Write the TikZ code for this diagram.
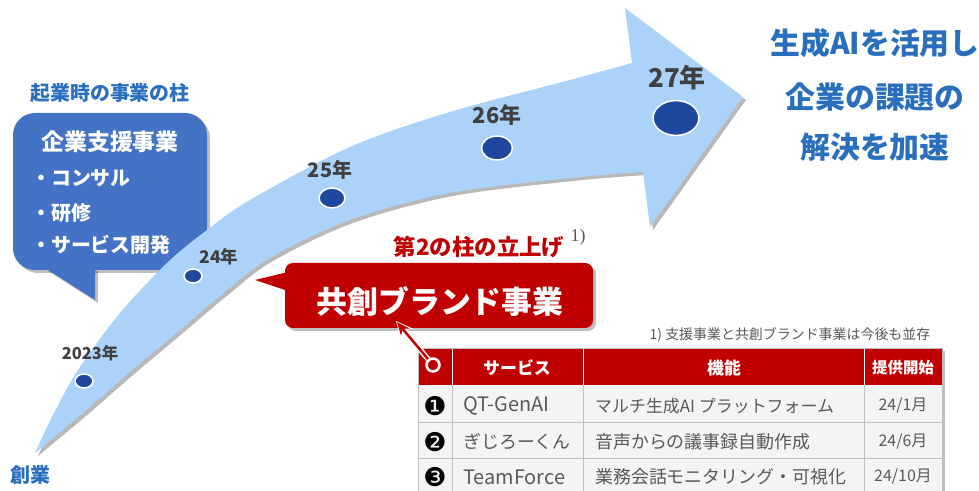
\documentclass[tikz,border=0pt]{standalone}
\usepackage{fontspec}
\setmainfont{Noto Sans CJK JP}
\newfontfamily\symfont{DejaVu Sans}
\newfontfamily\serifx{Liberation Serif}
\usetikzlibrary{arrows.meta,shapes.geometric}
\definecolor{arrowblue}{HTML}{ABD3FA}
\definecolor{dotblue}{HTML}{1E489E}
\definecolor{bubbleblue}{HTML}{4472C4}
\definecolor{titleblue}{HTML}{2A6FBE}
\definecolor{brandred}{HTML}{C00000}
\definecolor{yeargray}{HTML}{404040}
\definecolor{cellgray}{HTML}{595959}
\definecolor{rowfill}{HTML}{F4F4F4}
\definecolor{gridgray}{HTML}{BFBFBF}
\newcommand{\myfs}[1]{\fontsize{#1}{#1}\selectfont}
\begin{document}
\begin{tikzpicture}[x=1bp,y=-1bp,
  arrowshape/.style={insert path={plot[smooth,tension=0.55] coordinates {(35,453) (52,417) (78,370) (120,313) (167,263) (207,230) (250,200) (350,147) (450,112) (570,80) (632,63)} -- (625,8) -- (743,97) -- (650,227) -- plot[smooth,tension=0.55] coordinates {(643,172) (570,178) (450,193) (350,220) (270,258) (225,292) (180,330) (130,372) (83,413) (35,453)} -- cycle}},
  dot/.style={ellipse, fill=dotblue, draw=white, line width=1.5, inner sep=0},
  year/.style={text=yeargray, font=\bfseries, inner sep=0},
  blt/.style={text=white, font=\bfseries\myfs{20}, anchor=west, inner sep=0},
  bigblue/.style={text=titleblue, font=\bfseries\myfs{30}, inner sep=0},
  hdr/.style={text=white, font=\bfseries\myfs{17}, inner sep=0},
  cell/.style={text=cellgray, inner sep=0},
  num/.style={text=black, font=\symfont\myfs{26}, inner sep=0},
  shadow/.style={fill=black, opacity=0.25}
]
\useasboundingbox (0,0) rectangle (979,491);

% ---------- blue speech bubble ----------
\fill[shadow, rounded corners=22] (16,116) rectangle (210,273);
\fill[shadow] (48,271) -- (98,303) -- (98,271) -- cycle;
\fill[bubbleblue, rounded corners=22] (13,113) rectangle (207,270);
\fill[bubbleblue] (45,268) -- (95,300) -- (95,268) -- cycle;
\node[text=titleblue, font=\bfseries\myfs{20}, inner sep=0] (pillar) at (110,93) {起業時の事業の柱};
\node[text=white, font=\bfseries\myfs{23}, inner sep=0] (support) at (110,142) {企業支援事業};
\node[blt] (b1) at (31,178) {・コンサル};
\node[blt] (b2) at (31,213) {・研修};
\node[blt] (b3) at (31,245) {・サービス開発};

% ---------- curved arrow ----------
\begin{scope}[shift={(3,3)}]
\fill[black, opacity=0.28, arrowshape];
\end{scope}
\fill[arrowblue, arrowshape];

% dots and years
\node[dot, minimum width=18, minimum height=14] (d23) at (84,381) {};
\node[dot, minimum width=18, minimum height=14] (d24) at (193,276) {};
\node[dot, minimum width=26, minimum height=20] (d25) at (332,198) {};
\node[dot, minimum width=31, minimum height=24] (d26) at (497,148) {};
\node[dot, minimum width=46, minimum height=35] (d27) at (676,118) {};
\node[year, font=\bfseries\myfs{16.5}] (y23) at (90,353) {2023年};
\node[year, font=\bfseries\myfs{17.5}] (y24) at (219,257) {24年};
\node[year, font=\bfseries\myfs{20}] (y25) at (330,170) {25年};
\node[year, font=\bfseries\myfs{22}] (y26) at (497,115) {26年};
\node[year, font=\bfseries\myfs{26}] (y27) at (677,78) {27年};
\node[text=titleblue, font=\bfseries\myfs{20}, inner sep=0] (founding) at (30,475) {創業};

% ---------- right message ----------
\node[bigblue] (m1) at (875,43) {生成AIを活用し};
\node[bigblue] (m2) at (875,97) {企業の課題の};
\node[bigblue] (m3) at (875,147) {解決を加速};

% ---------- red bubble ----------
\node[text=brandred, font=\bfseries\myfs{22.5}, inner sep=0] (second) at (479,247) {第2の柱の立上げ};
\node[text=cellgray, font=\serifx\myfs{18}, inner sep=0] (fn1) at (578,237) {1)};
\fill[shadow, rounded corners=8] (288,266) rectangle (596,331);
\fill[brandred, rounded corners=8] (285,263) rectangle (593,328);
\fill[brandred] (288,272) -- (255,280) -- (288,291) -- cycle;
\node[text=white, font=\bfseries\myfs{31}, inner sep=0] (brand) at (440,302) {共創ブランド事業};

% ---------- note ----------
\node[text=cellgray, font=\myfs{14}, inner sep=0] (note) at (790,335) {1) 支援事業と共創ブランド事業は今後も並存};

% ---------- table ----------
\fill[shadow] (421,351) rectangle (945,498);
\fill[rowfill] (418,385) rectangle (942,495);
\fill[brandred] (418,348) rectangle (942,385);
\draw[gridgray, line width=0.8] (418,422) -- (942,422) (418,458) -- (942,458);
\draw[gridgray, line width=0.8] (452,385) -- (452,495) (583,385) -- (583,495) (864,385) -- (864,495);
\draw[white, line width=0.8] (452,348) -- (452,385) (583,348) -- (583,385) (864,348) -- (864,385);
\draw[gridgray, line width=0.8] (418,348) rectangle (942,495);

\node[hdr] (hsvc) at (517,368) {サービス};
\node[hdr] (hfn) at (724,368) {機能};
\node[hdr, font=\bfseries\myfs{15.5}] (hstart) at (903,368) {提供開始};

\node[num] (n1) at (435,406) {❶};
\node[num] (n2) at (435,442) {❷};
\node[num] (n3) at (435,477) {❸};
\node[cell, anchor=west, font=\myfs{20}] (s1) at (463,406) {QT-GenAI};
\node[cell, anchor=west, font=\myfs{18}] (s2) at (463,442) {ぎじろーくん};
\node[cell, anchor=west, font=\myfs{20}] (s3) at (463,477) {TeamForce};
\node[cell, anchor=west, font=\myfs{17}] (f1) at (595,406) {マルチ生成AI プラットフォーム};
\node[cell, anchor=west, font=\myfs{18}] (f2) at (595,442) {音声からの議事録自動作成};
\node[cell, anchor=west, font=\myfs{18}] (f3) at (595,477) {業務会話モニタリング・可視化};
\node[cell, font=\myfs{16}] (t1) at (903,406) {24/1月};
\node[cell, font=\myfs{16}] (t2) at (903,442) {24/6月};
\node[cell, font=\myfs{16}] (t3) at (903,477) {24/10月};

% ---------- pointer ----------
\node[circle, draw=white, line width=2.6, minimum size=13, inner sep=0] (pcirc) at (433,365) {};
\coordinate (ptip) at (396,321);
\draw[white, line width=5.5, -{Stealth[length=17,width=16]}] (pcirc) -- (ptip);
\draw[brandred, line width=2.5, shorten >=1.5, -{Stealth[length=13,width=11]}] (pcirc) -- (ptip);
\end{tikzpicture}
\end{document}
